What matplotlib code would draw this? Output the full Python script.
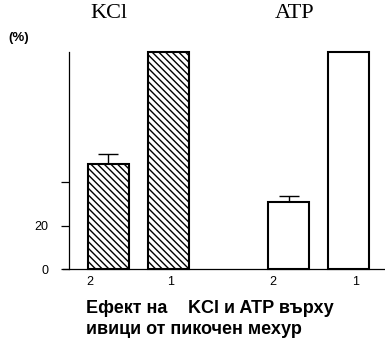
import matplotlib
matplotlib.use("Agg")
import matplotlib.pyplot as plt

plt.rcParams['font.family'] = ['Liberation Sans', 'DejaVu Sans']
plt.rcParams['hatch.linewidth'] = 1.0

# relative response (%) for the two strips per agent
strips = ['2', '1']
kcl_vals = [48.5, 100]
kcl_err = [4.5, 0]
atp_vals = [31, 100]
atp_err = [2.6, 0]

kcl_pos = [0, 1]
atp_pos = [3, 4]
label_pos = [-0.31, 1.04, 2.74, 4.12]

W, H = 385, 343
fig = plt.figure(figsize=(W / 100, H / 100), dpi=100)
ax = fig.add_axes([63 / W, (H - 269.3) / H, (W - 63) / W, (269.3 - 52) / H])

bw = 0.67
ax.bar(kcl_pos, kcl_vals, width=bw, color='white', edgecolor='black',
       linewidth=1.5, hatch='\\\\\\\\\\', clip_on=False, zorder=3)
ax.bar(atp_pos, atp_vals, width=bw, color='white', edgecolor='black',
       linewidth=1.5, clip_on=False, zorder=3)
ax.errorbar(kcl_pos[:1], kcl_vals[:1], yerr=[[0], kcl_err[:1]], fmt='none',
            ecolor='black', elinewidth=1, capsize=7.2, capthick=1, zorder=2)
ax.errorbar(atp_pos[:1], atp_vals[:1], yerr=[[0], atp_err[:1]], fmt='none',
            ecolor='black', elinewidth=1, capsize=7.2, capthick=1, zorder=2)

ax.set_xlim(-0.758, 4.608)
ax.set_ylim(0, 100)
ax.spines['top'].set_visible(False)
ax.spines['right'].set_visible(False)
ax.spines['left'].set_position(('data', -0.658))
ax.spines['left'].set_linewidth(0.9)
ax.spines['bottom'].set_linewidth(0.9)

ax.set_yticks([0, 20, 40])
ax.set_yticklabels(['0', '20', ''])
ax.tick_params(axis='y', length=6, width=0.9, pad=9, labelsize=9)
ax.set_xticks(label_pos)
ax.set_xticklabels(strips * 2)
ax.tick_params(axis='x', length=0, pad=5, labelsize=9)

fig.text(8 / W, 1 - 38 / H, '(%)', fontsize=9.5, fontweight='bold',
         ha='left', va='center')
fig.text(108.5 / W, 1 - 14 / H, 'KCl', fontsize=16, family='Liberation Serif',
         ha='center', va='center')
fig.text(295 / W, 1 - 14 / H, 'ATP', fontsize=16, family='Liberation Serif',
         ha='center', va='center')

# caption below the axis, first line in two pieces with a wide gap
cap = dict(fontsize=13, fontweight='bold', ha='left', va='baseline')
fig.text(86 / W, 1 - 313 / H, 'Ефект на', **cap)
fig.text(188 / W, 1 - 313 / H, 'KCl и ATP върху', **cap)
fig.text(86 / W, 1 - 334 / H, 'ивици от пикочен мехур', **cap)

fig.savefig('out.png', dpi=100)
